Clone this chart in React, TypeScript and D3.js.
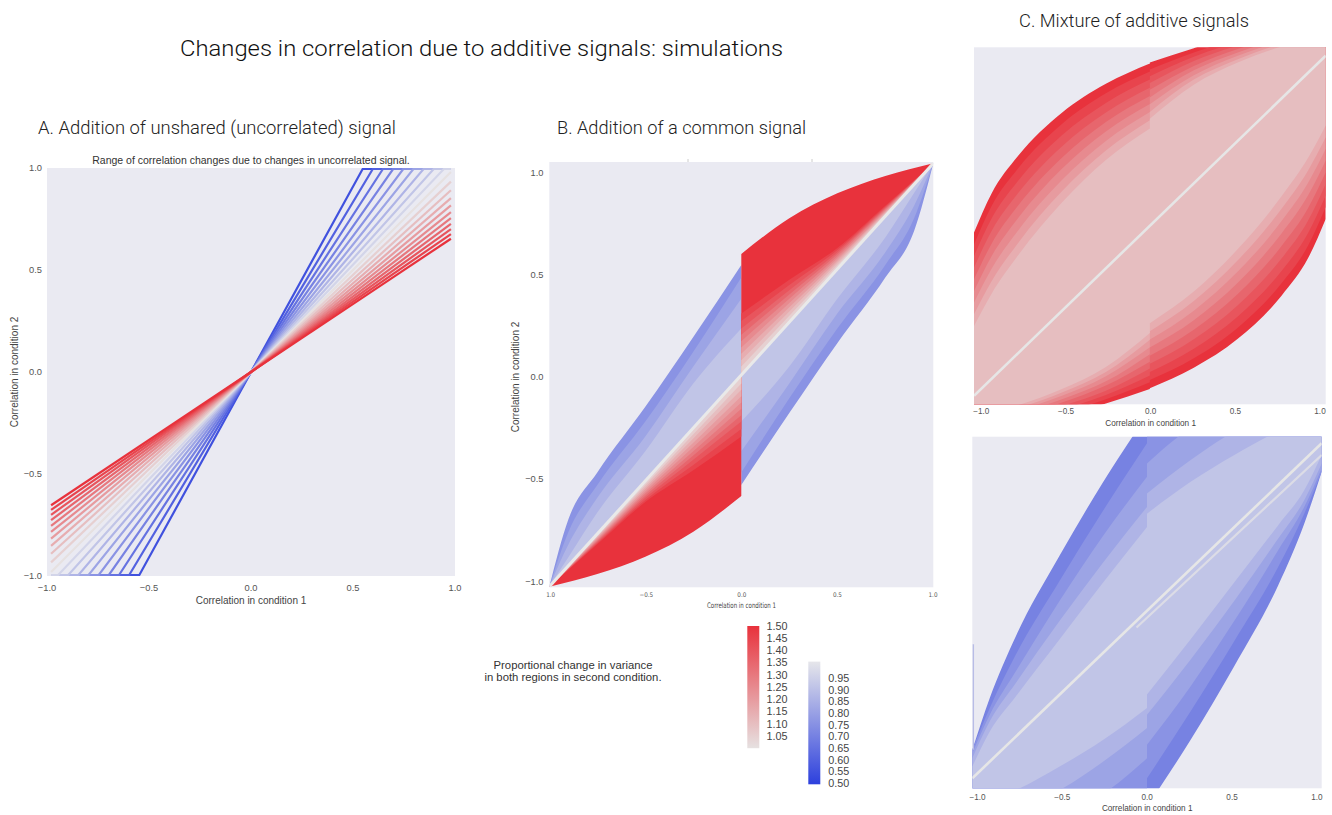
import React from 'react';
import * as d3 from 'd3';

// ---- panel A: ratio of variance in condition 2 (one line each)
const varianceRatios = [0.55, 0.6, 0.65, 0.7, 0.75, 0.8, 0.85, 0.9, 0.95, 1.0,
  1.05, 1.1, 1.15, 1.2, 1.25, 1.3, 1.35, 1.4, 1.45, 1.5];
const lineExtent = [-0.98, 0.98];

// ---- panel B: common signal, boundary of each filled band
const bRedRatios = [1.5, 1.45, 1.4, 1.35, 1.3, 1.25, 1.2, 1.15, 1.1, 1.05];
const bRedXs = [0, 0.25, 0.5, 0.75, 1];
const bRedUpper = [
  [0.572, 0.74, 0.858, 0.94, 1.0],
  [0.29, 0.45, 0.6, 0.8, 1.0],
  [0.255, 0.425, 0.59, 0.795, 1.0],
  [0.22, 0.4, 0.58, 0.79, 1.0],
  [0.19, 0.38, 0.57, 0.785, 1.0],
  [0.16, 0.36, 0.56, 0.78, 1.0],
  [0.13, 0.34, 0.55, 0.775, 1.0],
  [0.1, 0.32, 0.54, 0.77, 1.0],
  [0.07, 0.3, 0.53, 0.765, 1.0],
  [0.04, 0.28, 0.52, 0.76, 1.0],
];
const bBlueRatios = [0.75, 0.8, 0.85, 0.9];
const bBlueXs = [-1, -0.9, -0.75, -0.5, -0.25, 0];
const bBlueUpper = [
  [-1.0, -0.68, -0.46, -0.15, 0.18, 0.52],
  [-1.0, -0.74, -0.52, -0.22, 0.11, 0.46],
  [-1.0, -0.8, -0.58, -0.29, 0.04, 0.36],
  [-1.0, -0.86, -0.65, -0.36, -0.04, 0.22],
];
const bXTickLabels = ['1.0', '\u22120.5', '0.0', '0.5', '1.0'];

// ---- panel C: mixture, upper boundary of each band (left / right of 0)
const cXsLeft = [-1, -0.9, -0.75, -0.5, -0.25, 0];
const cXsRight = [0, 0.25, 0.5, 0.75, 0.9, 1];
const cRedRatios = [1.5, 1.45, 1.4, 1.35, 1.3, 1.25, 1.2, 1.15, 1.1];
const cRedUpperLeft = [
  [-0.04, 0.19, 0.41, 0.665, 0.835, 0.955],
  [-0.11, 0.116, 0.337, 0.599, 0.779, 0.907],
  [-0.178, 0.043, 0.264, 0.533, 0.723, 0.86],
  [-0.246, -0.031, 0.191, 0.467, 0.667, 0.812],
  [-0.315, -0.105, 0.118, 0.401, 0.611, 0.764],
  [-0.384, -0.179, 0.044, 0.335, 0.555, 0.716],
  [-0.453, -0.253, -0.029, 0.269, 0.499, 0.669],
  [-0.521, -0.326, -0.102, 0.203, 0.443, 0.621],
  [-0.59, -0.4, -0.175, 0.137, 0.387, 0.573],
];
const cRedUpperRight = [
  [0.96, 1.045, 1.12, 1.17, 1.19, 1.2],
  [0.92, 1.02, 1.1, 1.16, 1.18, 1.19],
  [0.88, 0.995, 1.08, 1.145, 1.165, 1.18],
  [0.84, 0.97, 1.06, 1.13, 1.155, 1.17],
  [0.8, 0.94, 1.04, 1.115, 1.14, 1.16],
  [0.755, 0.915, 1.02, 1.1, 1.13, 1.15],
  [0.715, 0.885, 1.0, 1.085, 1.12, 1.14],
  [0.67, 0.86, 0.98, 1.07, 1.105, 1.13],
  [0.63, 0.83, 0.96, 1.055, 1.095, 1.12],
];
const cBlueRatios = [0.7, 0.75, 0.8, 0.85, 0.9];
const cBlueUpperLeft = [
  [-0.83, -0.52, -0.15, 0.33, 0.77, 1.17],
  [-0.83, -0.58, -0.26, 0.18, 0.6, 1.0],
  [-0.85, -0.62, -0.36, 0.06, 0.45, 0.8],
  [-0.88, -0.66, -0.43, -0.06, 0.29, 0.62],
  [-0.93, -0.72, -0.51, -0.17, 0.17, 0.5],
];
const cBlueUpperRight = [
  [1.3, 1.4, 1.45, 1.5, 1.5, 1.5],
  [1.1, 1.2, 1.3, 1.35, 1.38, 1.4],
  [0.88, 1.09, 1.2, 1.28, 1.3, 1.32],
  [0.7, 0.9, 1.07, 1.18, 1.22, 1.25],
  [0.58, 0.77, 0.93, 1.07, 1.13, 1.17],
];
const cBlueOffsetLine = [[-0.06, -0.1], [1, 0.93]];

// ---- colour bars
const redTicks = [1.05, 1.1, 1.15, 1.2, 1.25, 1.3, 1.35, 1.4, 1.45, 1.5];
const blueTicks = [0.5, 0.55, 0.6, 0.65, 0.7, 0.75, 0.8, 0.85, 0.9, 0.95];
const corrTicks = [-1, -0.5, 0, 0.5, 1];

const BG = '#eaeaf2';
const FONT = '"Liberation Sans", Arial, sans-serif';
const TITLE_FONT = 'Roboto, "Liberation Sans", sans-serif';
const NARROW = '"Liberation Sans Narrow", "DejaVu Sans Condensed", sans-serif';
const TICK = '#555';

const blueScale = d3.scaleLinear<string>().domain([0.5, 1.0]).range(['#2d40dd', '#e6e6ea']);
const redScale = d3.scaleLinear<string>().domain([1.0, 1.5]).range(['#e6e1e1', '#e8323c']);
const colorFor = (v: number) => (v < 1 ? blueScale(v) : redScale(v));
const fmt = d3.format('.1f');

// closed band in one path: both halves, lower boundary by point symmetry
function bandPath(upL: number[], upR: number[], x, y) {
  const n = cXsLeft.length;
  const area = d3.area<number[]>().curve(d3.curveMonotoneX)
    .x(d => x(d[0])).y0(d => y(d[1])).y1(d => y(d[2]));
  const left = cXsLeft.map((v, i) => [v, -upR[n - 1 - i], upL[i]]);
  const right = cXsRight.map((v, i) => [v, -upL[n - 1 - i], upR[i]]);
  return (area(left) as string) + (area(right) as string);
}

function linePoints(v: number) {
  const s = 1 / v, cap = 0.995;
  const [x0, x1] = lineExtent;
  const pts = [[x0, Math.max(-cap, s * x0)]];
  if (s * x1 > cap) pts.push([-cap / s, -cap], [cap / s, cap]);
  pts.push([x1, Math.min(cap, s * x1)]);
  return pts;
}

function PanelA() {
  const x = d3.scaleLinear().domain([-1, 1]).range([47, 455]);
  const y = d3.scaleLinear().domain([-1, 1]).range([576, 168]);
  const line = d3.line<number[]>().x(d => x(d[0])).y(d => y(d[1]));
  return (
    <g fontFamily={FONT}>
      <text x={38} y={134} fontFamily={TITLE_FONT} fontWeight={300} fontSize={17.5} fill="#222"
        textLength={358} lengthAdjust="spacingAndGlyphs">A. Addition of unshared (uncorrelated) signal</text>
      <text x={251} y={164} textAnchor="middle" fontSize={10.5} fill="#333">
        Range of correlation changes due to changes in uncorrelated signal.</text>
      <rect x={47} y={168} width={408} height={408} fill={BG} />
      {varianceRatios.map(v => (
        <path key={v} d={line(linePoints(v)) as string} fill="none" stroke={colorFor(v)} strokeWidth={2.2} />
      ))}
      {corrTicks.map(t => (
        <text key={'y' + t} x={42} y={y(t) + 3.3} textAnchor="end" fontSize={9.3} fill={TICK}>{fmt(t)}</text>
      ))}
      {corrTicks.map(t => (
        <text key={'x' + t} x={x(t)} y={590.5} textAnchor="middle" fontSize={9.3} fill={TICK}>{fmt(t)}</text>
      ))}
      <text x={251} y={603.5} textAnchor="middle" fontSize={10} fill="#444">Correlation in condition 1</text>
      <text transform="translate(18,372) rotate(-90)" textAnchor="middle" fontSize={10} fill="#444">
        Correlation in condition 2</text>
    </g>
  );
}

function PanelB() {
  const x = d3.scaleLinear().domain([-1, 1]).range([549.3, 933.3]);
  const y = d3.scaleLinear().domain([-1, 1]).range([586.7, 163.3]);
  const xt = d3.scaleLinear().domain([-1, 1]).range([550.7, 933]);
  const yt = d3.scaleLinear().domain([-1, 1]).range([581.3, 172.3]);
  // band between the identity line and a boundary curve
  const band = d3.area<number[]>().curve(d3.curveMonotoneX)
    .x(d => x(d[0])).y0(d => y(d[0])).y1(d => y(d[1]));
  return (
    <g fontFamily={FONT}>
      <text x={557} y={134} fontFamily={TITLE_FONT} fontWeight={300} fontSize={17.5} fill="#222"
        textLength={249} lengthAdjust="spacingAndGlyphs">B. Addition of a common signal</text>
      <defs>
        <clipPath id="clipB"><rect x={549.3} y={162} width={384} height={425.3} /></clipPath>
      </defs>
      <rect x={549.3} y={162} width={384} height={425.3} fill={BG} />
      <line x1={688} x2={688} y1={159} y2={162} stroke="#ccc" />
      <line x1={812} x2={812} y1={159} y2={162} stroke="#ccc" />
      <g clipPath="url(#clipB)">
        {bBlueRatios.map((v, k) => {
          const up = bBlueUpper[k];
          const left = bBlueXs.map((xx, i) => [xx, up[i]]);
          const right = bBlueXs.map((xx, i) => [-xx, -up[i]]).reverse();
          return (
            <g key={'b' + v} fill={colorFor(v)}>
              <path d={band(left) as string} />
              <path d={band(right) as string} />
            </g>
          );
        })}
        {bRedRatios.map((v, k) => {
          const up = bRedUpper[k];
          const right = bRedXs.map((xx, i) => [xx, up[i]]);
          const left = bRedXs.map((xx, i) => [-xx, -up[i]]).reverse();
          return (
            <g key={'r' + v} fill={colorFor(v)}>
              <path d={band(right) as string} />
              <path d={band(left) as string} />
            </g>
          );
        })}
        <line x1={x(-1)} y1={y(-1)} x2={x(1)} y2={y(1)} stroke="#e9e9e9" strokeWidth={3} />
      </g>
      {corrTicks.map(t => (
        <text key={'y' + t} x={543.5} y={yt(t) + 3.3} textAnchor="end" fontSize={9.3} fill={TICK}>{fmt(t)}</text>
      ))}
      {corrTicks.map((t, i) => (
        <text key={'x' + t} x={xt(t)} y={597.3} textAnchor="middle" fontSize={6.3} fill={TICK}
          fontFamily={NARROW}>{bXTickLabels[i]}</text>
      ))}
      <text x={741.5} y={608.3} textAnchor="middle" fontSize={7.6} fill="#444" textLength={69}
        lengthAdjust="spacingAndGlyphs" fontFamily={NARROW}>Correlation in condition 1</text>
      <text transform="translate(519,377) rotate(-90)" textAnchor="middle" fontSize={10} fill="#444">
        Correlation in condition 2</text>
    </g>
  );
}

function PanelC({ id, plot, yRange, tickRange, tickY, ratios, upL, upR, extra }) {
  const [px, py, pw, ph] = plot;
  const x = d3.scaleLinear().domain([-1, 1]).range([px, px + pw]);
  const y = d3.scaleLinear().domain([-1, 1]).range(yRange);
  const xt = d3.scaleLinear().domain([-1, 1]).range(tickRange);
  const straight = d3.line<number[]>().x(d => x(d[0])).y(d => y(d[1]));
  return (
    <g fontFamily={FONT}>
      <defs>
        <clipPath id={id}><rect x={px} y={py} width={pw} height={ph} /></clipPath>
      </defs>
      <rect x={px} y={py} width={pw} height={ph} fill={BG} />
      <g clipPath={`url(#${id})`}>
        {ratios.map((v, k) => (
          <path key={v} d={bandPath(upL[k], upR[k], x, y)} fill={colorFor(v)} />
        ))}
        {extra && (
          <>
            <line x1={x(-1) + 1} x2={x(-1) + 1} y1={y(-0.2)} y2={y(-0.83)} stroke="#b8bce6" strokeWidth={1.5} />
            <path d={straight(cBlueOffsetLine) as string} stroke="#dcdce6" strokeWidth={2.2} fill="none" />
          </>
        )}
        <line x1={x(-1)} y1={y(-1)} x2={x(1)} y2={y(1)} stroke="#e6e6e6" strokeWidth={2.6} />
      </g>
      {corrTicks.map(t => (
        <text key={t} x={xt(t)} y={tickY} textAnchor="middle" fontSize={8.2} fill={TICK}>{fmt(t)}</text>
      ))}
      <text x={xt(0)} y={tickY + 11.5} textAnchor="middle" fontSize={8.2} fill="#444">Correlation in condition 1</text>
    </g>
  );
}

function ColorBars() {
  const ry = d3.scaleLinear().domain([1.0, 1.5]).range([748.2, 626]);
  const by = d3.scaleLinear().domain([0.5, 1.0]).range([783.3, 666.6]);
  const f2 = d3.format('.2f');
  return (
    <g fontFamily={FONT}>
      <defs>
        <linearGradient id="gRed" x1="0" y1="1" x2="0" y2="0">
          <stop offset="0" stopColor={redScale(1.0)} />
          <stop offset="1" stopColor={redScale(1.5)} />
        </linearGradient>
        <linearGradient id="gBlue" x1="0" y1="1" x2="0" y2="0">
          <stop offset="0" stopColor={blueScale(0.5)} />
          <stop offset="1" stopColor={blueScale(1.0)} />
        </linearGradient>
      </defs>
      <text x={573} y={669} textAnchor="middle" fontSize={11.3} fill="#333">Proportional change in variance</text>
      <text x={573} y={680.5} textAnchor="middle" fontSize={11.3} fill="#333">in both regions in second condition.</text>
      <rect x={747.3} y={ry(1.5)} width={12} height={ry(1.0) - ry(1.5)} fill="url(#gRed)" />
      {redTicks.map(t => (
        <text key={t} x={766.5} y={ry(t) + 3.8} fontSize={10.8} fill="#444">{f2(t)}</text>
      ))}
      <rect x={808.3} y={by(1.0) - 5} width={12} height={by(0.5) - by(1.0) + 6} fill="url(#gBlue)" />
      {blueTicks.map(t => (
        <text key={t} x={828.3} y={by(t) + 3.8} fontSize={10.8} fill="#444">{f2(t)}</text>
      ))}
    </g>
  );
}

export default function App() {
  return (
    <svg width={1332} height={815} style={{ position: 'absolute', left: 0, top: 0, background: '#fff' }}>
      <text x={481.5} y={56} textAnchor="middle" fontFamily={TITLE_FONT} fontWeight={300} fontSize={22}
        fill="#111" textLength={603} lengthAdjust="spacingAndGlyphs">
        Changes in correlation due to additive signals: simulations</text>
      <text x={1019} y={27} fontFamily={TITLE_FONT} fontWeight={300} fontSize={17.5} fill="#222"
        textLength={230} lengthAdjust="spacingAndGlyphs">C. Mixture of additive signals</text>
      <PanelA />
      <PanelB />
      <ColorBars />
      <PanelC id="clipC1" plot={[974, 47.3, 351.7, 357]} yRange={[395.8, 55.8]} tickRange={[981.3, 1320]}
        tickY={414} ratios={cRedRatios} upL={cRedUpperLeft} upR={cRedUpperRight} extra={false} />
      <PanelC id="clipC2" plot={[972.3, 436.7, 349.4, 351.6]} yRange={[778.3, 443.3]} tickRange={[977.5, 1316.9]}
        tickY={799.5} ratios={cBlueRatios} upL={cBlueUpperLeft} upR={cBlueUpperRight} extra={true} />
    </svg>
  );
}
